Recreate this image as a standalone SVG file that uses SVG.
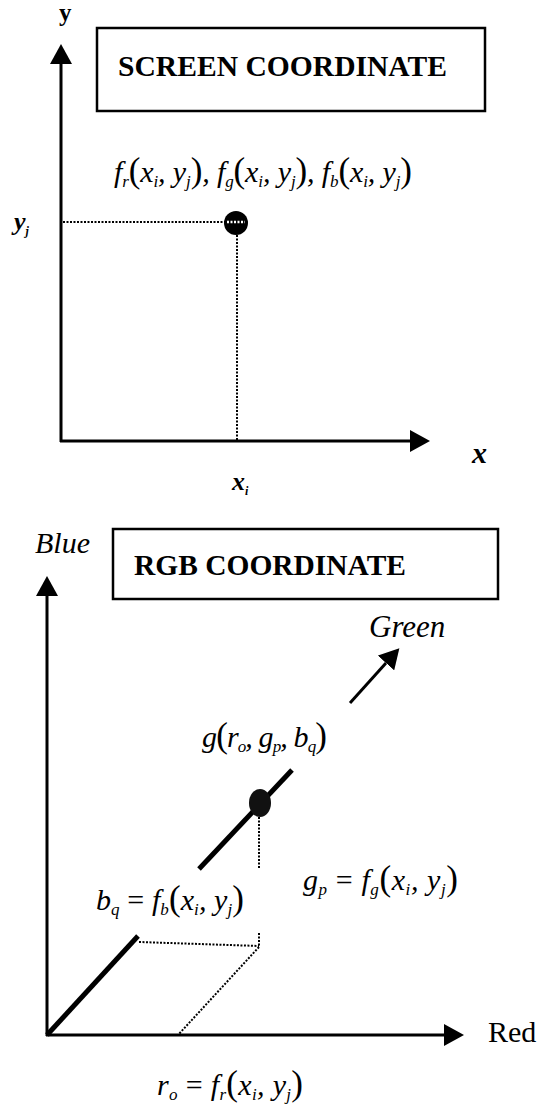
<svg xmlns="http://www.w3.org/2000/svg" width="546" height="1106" viewBox="0 0 546 1106">
<defs>
<style>
.ax{stroke:#000;stroke-width:3;fill:none}
.thick{stroke:#000;stroke-width:5;fill:none;stroke-linecap:butt}
.dot{stroke:#000;stroke-width:2;stroke-dasharray:2 1.5;fill:none}
.box{fill:#fff;stroke:#000;stroke-width:2.5}
.title{font-family:"Liberation Serif",serif;font-weight:bold;font-size:29px;fill:#000}
.m{font-family:"Liberation Serif",serif;font-style:italic;font-size:30px;fill:#000}
.p{font-style:normal;font-size:35px}
.s{font-size:17px}
.lbl{font-family:"Liberation Serif",serif;fill:#000}
</style>
<marker id="ah" viewBox="0 0 20 22" refX="0" refY="11" markerWidth="20" markerHeight="22" markerUnits="userSpaceOnUse" orient="auto">
<path d="M0,0 L20,11 L0,22 z" fill="#000"/>
</marker>
</defs>
<rect width="546" height="1106" fill="#fff"/>

<g id="connectors">
<line class="ax" x1="61" y1="442" x2="61" y2="64" marker-end="url(#ah)"/>
<line class="ax" x1="60" y1="441" x2="410" y2="441" marker-end="url(#ah)"/>
<line class="dot" x1="63" y1="222" x2="226" y2="222"/>
<line class="dot" x1="237" y1="235" x2="237" y2="440"/>
<line class="ax" x1="47" y1="1036" x2="47" y2="596" marker-end="url(#ah)"/>
<line class="ax" x1="46" y1="1035" x2="444" y2="1035" marker-end="url(#ah)"/>
<line class="thick" x1="47" y1="1035" x2="138" y2="936"/>
<line class="thick" x1="199" y1="869" x2="292" y2="770"/>
<line class="ax" stroke-width="3.5" x1="350" y1="703" x2="386" y2="663" marker-end="url(#ah)"/>
<line class="dot" x1="259" y1="817" x2="259" y2="868"/>
<line class="dot" x1="259" y1="933" x2="259" y2="947"/>
<line class="dot" x1="139" y1="942" x2="259" y2="946"/>
<line class="dot" x1="259" y1="947" x2="178" y2="1035"/>
</g>

<g id="screen-title">
<rect class="box" x="97" y="28" width="388" height="83"/>
<text class="title" x="118" y="76" textLength="329" lengthAdjust="spacingAndGlyphs">SCREEN COORDINATE</text>
</g>

<g id="label-y"><text class="lbl" x="59" y="21" font-size="25" font-weight="bold">y</text></g>
<g id="label-x"><text class="lbl" x="472" y="463" font-size="30" font-weight="bold" font-style="italic">x</text></g>
<g id="label-yj"><text class="lbl" x="14" y="230" font-size="26" font-weight="bold" font-style="italic">y<tspan font-size="12" dy="5">j</tspan></text></g>
<g id="label-xi"><text class="lbl" x="232" y="490" font-size="26" font-weight="bold" font-style="italic">x<tspan font-size="12" dy="5">i</tspan></text></g>

<g id="pixel-point">
<circle cx="236" cy="223" r="12" fill="#000"/>
<line x1="227" y1="222" x2="245" y2="222" stroke="#fff" stroke-width="2.5" stroke-dasharray="2 1.5"/>
</g>

<g id="pixel-formula">
<text class="m" x="114" y="182" textLength="298" lengthAdjust="spacing">f<tspan class="s" dy="5">r</tspan><tspan class="p" dy="-5">(</tspan>x<tspan class="s" dy="5">i</tspan><tspan dy="-5">, y</tspan><tspan class="s" dy="5">j</tspan><tspan class="p" dy="-5">)</tspan>, f<tspan class="s" dy="5">g</tspan><tspan class="p" dy="-5">(</tspan>x<tspan class="s" dy="5">i</tspan><tspan dy="-5">, y</tspan><tspan class="s" dy="5">j</tspan><tspan class="p" dy="-5">)</tspan>, f<tspan class="s" dy="5">b</tspan><tspan class="p" dy="-5">(</tspan>x<tspan class="s" dy="5">i</tspan><tspan dy="-5">, y</tspan><tspan class="s" dy="5">j</tspan><tspan class="p" dy="-5">)</tspan></text>
</g>

<g id="rgb-title">
<rect class="box" x="113" y="529" width="385" height="70"/>
<text class="title" x="134" y="575" textLength="272" lengthAdjust="spacingAndGlyphs">RGB COORDINATE</text>
</g>

<g id="label-blue"><text class="lbl" x="35" y="553" font-size="30" font-style="italic">Blue</text></g>
<g id="label-green"><text class="lbl" x="369" y="637" font-size="31" font-style="italic">Green</text></g>
<g id="label-red"><text class="lbl" x="488" y="1042" font-size="30">Red</text></g>

<g id="color-point">
<ellipse cx="260" cy="803" rx="11" ry="14" fill="#111"/>
</g>

<g id="color-formula">
<text class="m" x="202" y="747" textLength="125" lengthAdjust="spacing">g<tspan class="p">(</tspan>r<tspan class="s" dy="5">o</tspan><tspan dy="-5">, g</tspan><tspan class="s" dy="5">p</tspan><tspan dy="-5">, b</tspan><tspan class="s" dy="5">q</tspan><tspan class="p" dy="-5">)</tspan></text>
</g>

<g id="bq-formula">
<text class="m" x="96" y="910" textLength="148" lengthAdjust="spacing">b<tspan class="s" dy="5">q</tspan><tspan dy="-5" font-style="normal"> = </tspan>f<tspan class="s" dy="5">b</tspan><tspan class="p" dy="-5">(</tspan>x<tspan class="s" dy="5">i</tspan><tspan dy="-5">, y</tspan><tspan class="s" dy="5">j</tspan><tspan class="p" dy="-5">)</tspan></text>
</g>

<g id="gp-formula">
<text class="m" x="303" y="890" textLength="155" lengthAdjust="spacing">g<tspan class="s" dy="5">p</tspan><tspan dy="-5" font-style="normal"> = </tspan>f<tspan class="s" dy="5">g</tspan><tspan class="p" dy="-5">(</tspan>x<tspan class="s" dy="5">i</tspan><tspan dy="-5">, y</tspan><tspan class="s" dy="5">j</tspan><tspan class="p" dy="-5">)</tspan></text>
</g>

<g id="ro-formula">
<text class="m" x="157" y="1095" textLength="146" lengthAdjust="spacing">r<tspan class="s" dy="5">o</tspan><tspan dy="-5" font-style="normal"> = </tspan>f<tspan class="s" dy="5">r</tspan><tspan class="p" dy="-5">(</tspan>x<tspan class="s" dy="5">i</tspan><tspan dy="-5">, y</tspan><tspan class="s" dy="5">j</tspan><tspan class="p" dy="-5">)</tspan></text>
</g>
</svg>
